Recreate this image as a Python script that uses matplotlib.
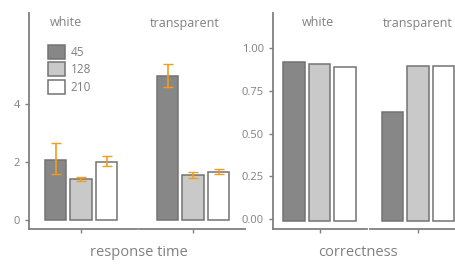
import numpy as np
import matplotlib.pyplot as plt

plt.rcParams['font.family'] = ['Open Sans', 'DejaVu Sans']

levels = ['45', '128', '210']
facets = ['white', 'transparent']

rt_white = [2.07, 1.42, 2.0]
rt_white_lo = [1.6, 1.36, 1.87]
rt_white_hi = [2.65, 1.48, 2.2]
rt_transp = [4.97, 1.55, 1.65]
rt_transp_lo = [4.6, 1.46, 1.57]
rt_transp_hi = [5.37, 1.65, 1.75]

corr_white = [0.918, 0.906, 0.892]
corr_transp = [0.626, 0.898, 0.898]

fills = ['#878787', '#c8c9c8', '#ffffff']
edge = '#737373'
grey = '#808080'
orange = '#f39c1d'

W, H = 455, 264
fig = plt.figure(figsize=(W / 100, H / 100), dpi=100)


def make_ax(x0, x1, y0=13, y1=229):
    return fig.add_axes([x0 / W, 1 - y1 / H, (x1 - x0) / W, (y1 - y0) / H])


def style(ax, left=True):
    for s in ['top', 'right']:
        ax.spines[s].set_visible(False)
    ax.spines['bottom'].set_color(grey)
    ax.spines['bottom'].set_linewidth(1.3)
    if left:
        ax.spines['left'].set_color(grey)
        ax.spines['left'].set_linewidth(1.3)
    else:
        ax.spines['left'].set_visible(False)
        ax.set_yticks([])
    ax.tick_params(colors=grey, labelcolor=grey, labelsize=8, length=3, width=1)
    ax.set_xticks([0])
    ax.set_xticklabels([])


pos = np.arange(3) - 1
bw = 0.86

# pixel left, pixel right, pixel centre of each facet
ax1 = make_ax(29, 137)
ax2 = make_ax(139, 245)
ax3 = make_ax(273, 367)
ax4 = make_ax(370, 464)
spans = [(ax1, 29, 137, 81), (ax2, 139, 245, 193), (ax3, 273, 367, 319.5), (ax4, 370, 464, 418)]
for ax, a, b, c in spans:
    ax.set_xlim((a - c) / 25.5, (b - c) / 25.5)

rt_data = [(ax1, rt_white, rt_white_lo, rt_white_hi), (ax2, rt_transp, rt_transp_lo, rt_transp_hi)]
for ax, v, lo, hi in rt_data:
    ax.bar(pos, v, bw, color=fills, edgecolor=edge, linewidth=1.1)
    err = [np.array(v) - np.array(lo), np.array(hi) - np.array(v)]
    ax.errorbar(pos, v, yerr=err, fmt='none', ecolor=orange, elinewidth=1.2, capsize=3.5, capthick=1)
    ax.set_ylim(-0.31, 7.14)

for ax, v in [(ax3, corr_white), (ax4, corr_transp)]:
    ax.bar(pos, np.array(v) + 0.01, bw, bottom=-0.01, color=fills, edgecolor=edge, linewidth=1.1)
    ax.set_ylim(-0.057, 1.206)

style(ax1)
style(ax2, left=False)
style(ax3)
style(ax4, left=False)
ax1.set_yticks([0, 2, 4])
ax3.set_yticks([0, 0.25, 0.5, 0.75, 1.0])
ax3.set_yticklabels(['0.00', '0.25', '0.50', '0.75', '1.00'])

# facet titles
fig.text(66 / W, 1 - 23 / H, facets[0], color=grey, fontsize=9, ha='center', va='center')
fig.text(185 / W, 1 - 23 / H, facets[1], color=grey, fontsize=9, ha='center', va='center')
fig.text(318 / W, 1 - 23 / H, facets[0], color=grey, fontsize=9, ha='center', va='center')
fig.text(418 / W, 1 - 23 / H, facets[1], color=grey, fontsize=9, ha='center', va='center')

fig.text(139 / W, 1 - 253 / H, 'response time', color=grey, fontsize=10.5, ha='center', va='center')
fig.text(358 / W, 1 - 253 / H, 'correctness', color=grey, fontsize=10.5, ha='center', va='center')

# legend
handles = [plt.Rectangle((0, 0), 1, 1, facecolor=f, edgecolor=edge, linewidth=1.1) for f in fills]
leg = ax1.legend(handles, levels, loc='upper left', bbox_to_anchor=(0.13, 0.875), frameon=False,
                 fontsize=8.5, handlelength=1.45, handleheight=1.45, handletextpad=0.5, labelspacing=0.3,
                 borderaxespad=0)
for t in leg.get_texts():
    t.set_color(grey)

fig.savefig('out.png', dpi=100)
